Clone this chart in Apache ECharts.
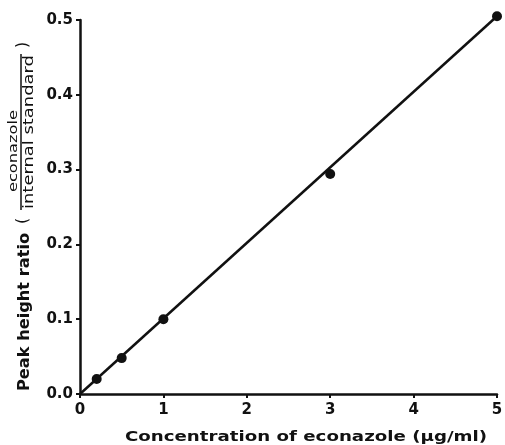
<!DOCTYPE html>
<html>
<head>
<meta charset="utf-8">
<script src="https://cdn.jsdelivr.net/npm/echarts@6/dist/echarts.min.js"></script>
<style>
  html, body { margin: 0; padding: 0; background: #fff; }
  #chart { width: 505px; height: 445px; }
</style>
</head>
<body>
<div id="chart"></div>
<script>
// measured points
const concentration = [0.2, 0.5, 1, 3, 5];
const peakRatio = [0.02, 0.048, 0.1, 0.294, 0.505];
// calibration line
const fitX = [0, 5];
const fitY = [0, 0.505];

const xTitle = 'Concentration of econazole (\u03bcg/ml)';
const yTitle = 'Peak height ratio';
const yTitleTop = 'econazole';
const yTitleBottom = 'internal standard';

const ink = '#111';
const font = 'DejaVu Sans';

const chart = echarts.init(document.getElementById('chart'));
chart.setOption({
  backgroundColor: '#fff',
  animation: false,
  grid: {left: 80, right: 8, top: 20, bottom: 51, outerBoundsMode: 'none'},
  xAxis: {
    type: 'value',
    min: 0, max: 5, interval: 1,
    splitLine: {show: false},
    axisLine: {lineStyle: {color: ink, width: 2.5}},
    axisTick: {length: 4, lineStyle: {color: ink, width: 2}},
    axisLabel: {color: ink, fontFamily: font, fontWeight: 'bold', fontSize: 15, margin: 9}
  },
  yAxis: {
    type: 'value',
    min: 0, max: 0.5, interval: 0.1,
    splitLine: {show: false},
    axisLine: {show: true, lineStyle: {color: ink, width: 2.5}},
    axisTick: {show: true, length: 4, lineStyle: {color: ink, width: 2}},
    axisLabel: {
      color: ink, fontFamily: font, fontWeight: 'bold', fontSize: 15, margin: 7,
      formatter: v => v.toFixed(1)
    }
  },
  series: [
    {
      type: 'line',
      data: fitX.map((x, i) => [x, fitY[i]]),
      showSymbol: false,
      clip: false,
      lineStyle: {color: ink, width: 2.5}
    },
    {
      type: 'scatter',
      data: concentration.map((x, i) => [x, peakRatio[i]]),
      symbolSize: 10,
      clip: false,
      itemStyle: {color: ink, opacity: 1}
    }
  ],
  graphic: [
    {
      type: 'text', x: 306, y: 437, scaleX: 1.3,
      style: {text: xTitle, font: 'bold 14px ' + font, fill: ink, align: 'center', verticalAlign: 'middle'}
    },
    {
      type: 'text', x: 25, y: 312, rotation: Math.PI / 2, scaleX: 1.08,
      style: {text: yTitle, font: 'bold 15px ' + font, fill: ink, align: 'center', verticalAlign: 'middle'}
    },
    {
      type: 'group', x: 21, y: 132, rotation: Math.PI / 2,
      children: [
        {type: 'line', shape: {x1: -78, y1: 0, x2: 78, y2: 0}, style: {stroke: ink, lineWidth: 1.5}},
        {type: 'text', x: -19, y: -1, scaleX: 1.25,
          style: {text: yTitleTop, font: '13px ' + font, fill: ink, align: 'center', verticalAlign: 'bottom'}},
        {type: 'text', x: 0, y: 1, scaleX: 1.28,
          style: {text: yTitleBottom, font: '14px ' + font, fill: ink, align: 'center', verticalAlign: 'top'}},
        {type: 'text', x: -89, y: 2,
          style: {text: '(', font: '16px ' + font, fill: ink, align: 'center', verticalAlign: 'middle'}},
        {type: 'text', x: 87, y: 2,
          style: {text: ')', font: '16px ' + font, fill: ink, align: 'center', verticalAlign: 'middle'}}
      ]
    }
  ]
});
</script>
</body>
</html>
